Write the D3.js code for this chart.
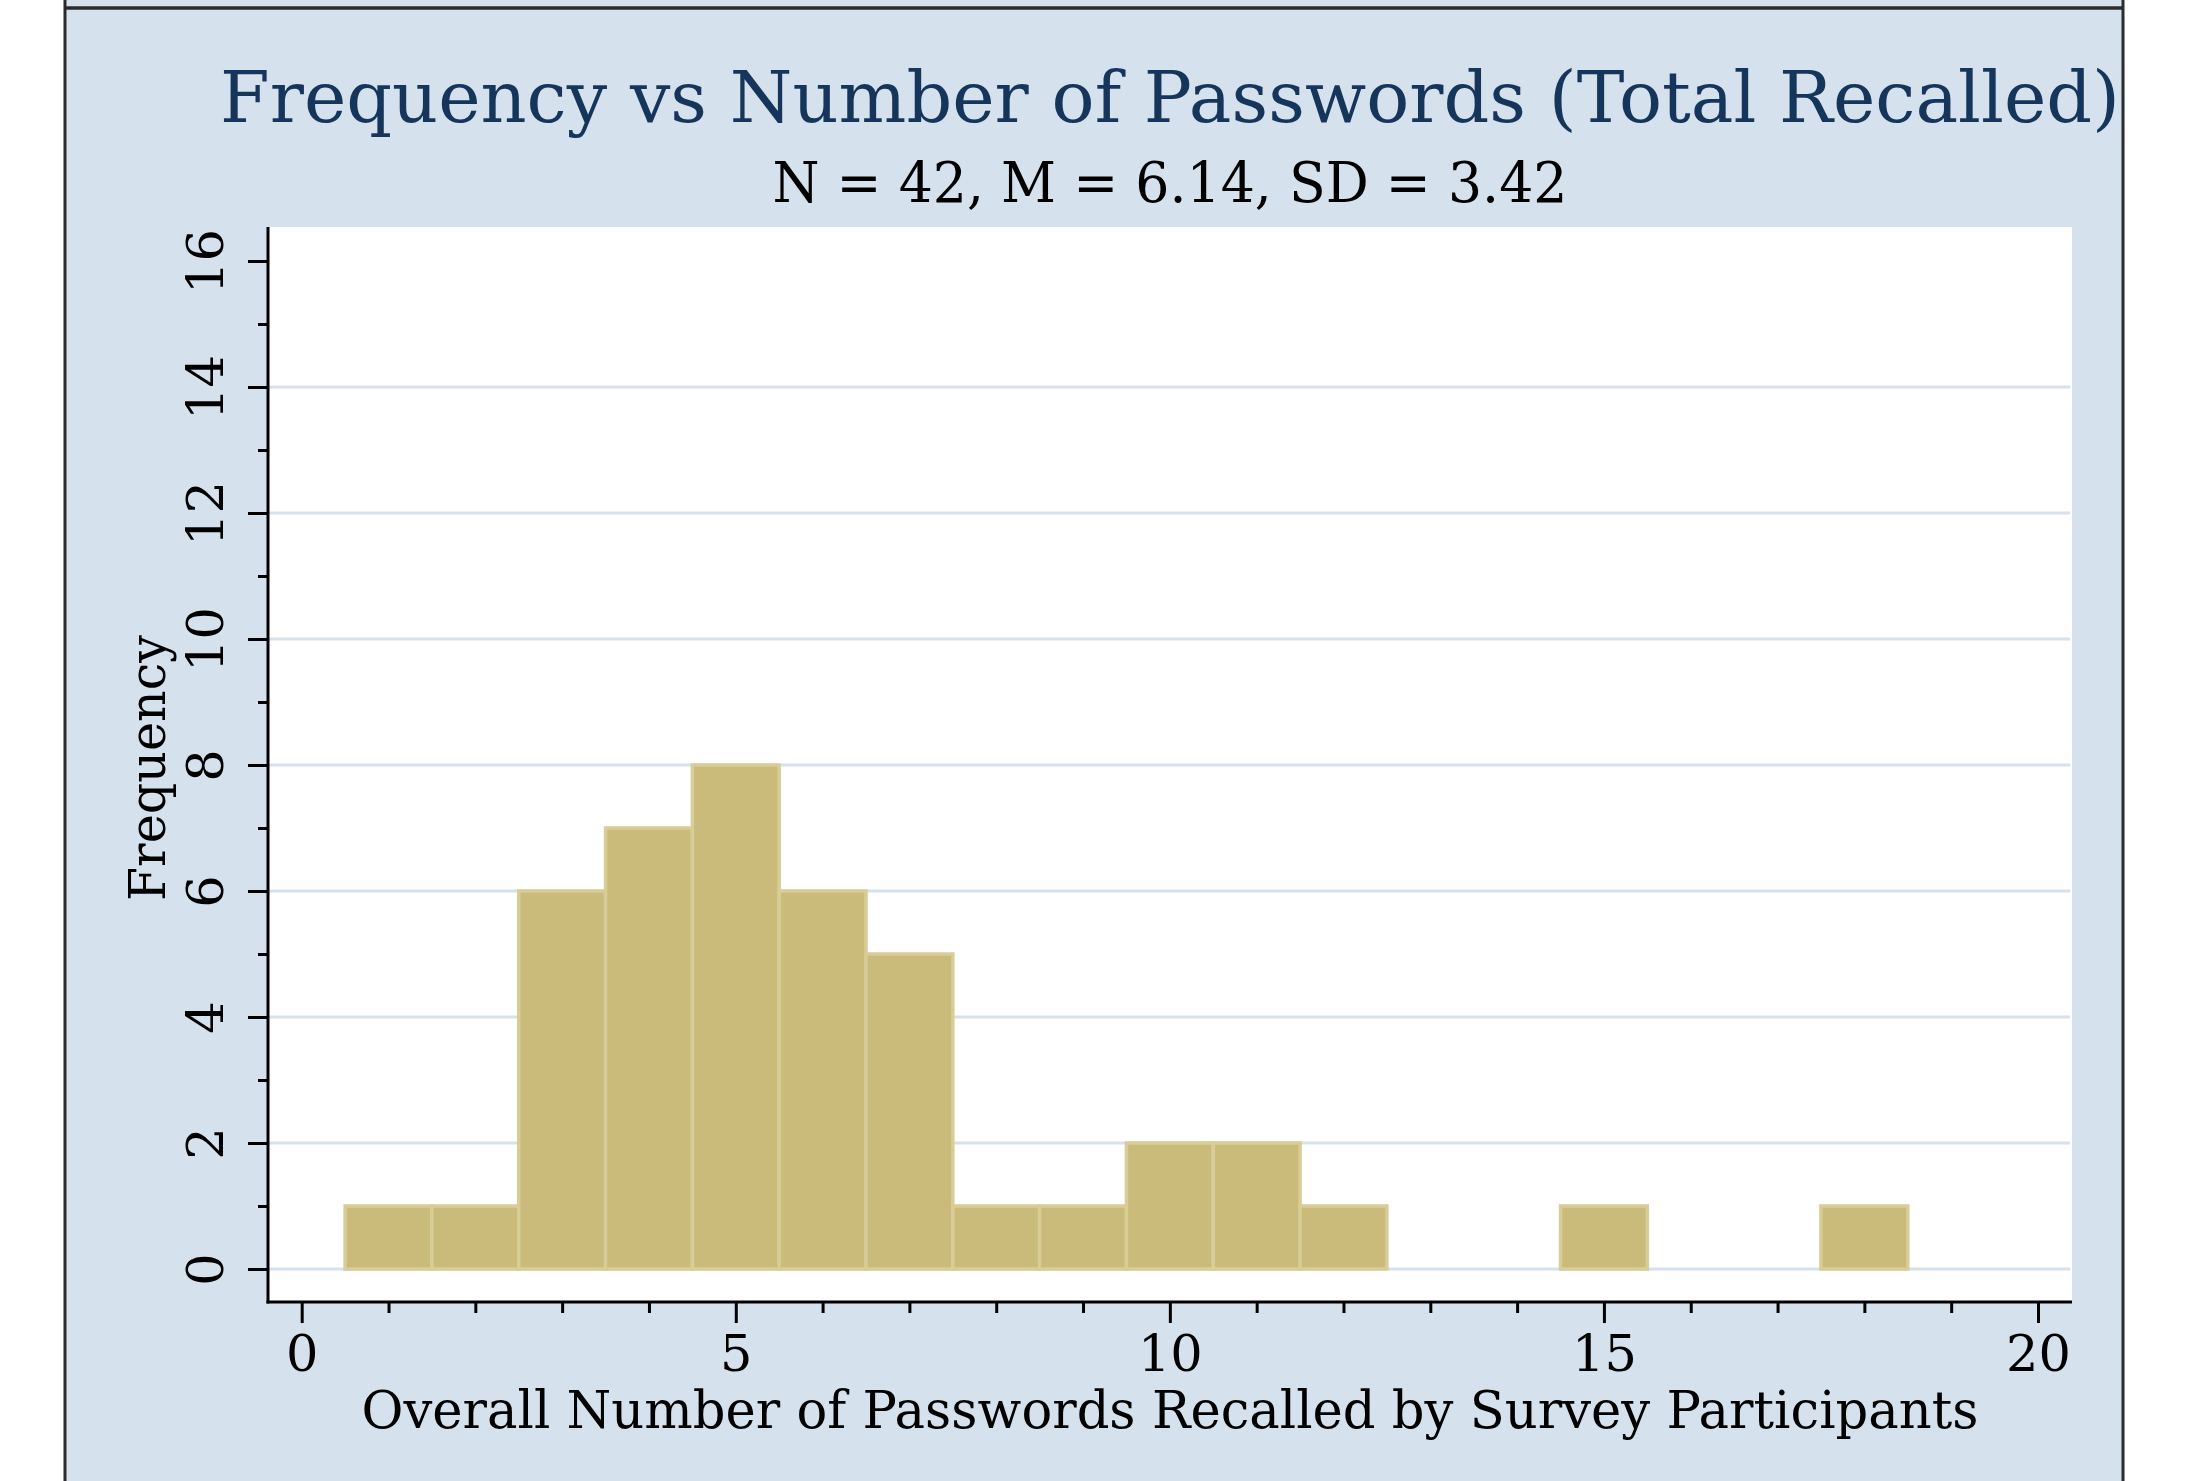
<!DOCTYPE html>
<html>
<head>
<meta charset="utf-8">
<script src="https://cdn.jsdelivr.net/npm/d3@7"></script>
<style>
  html, body { margin: 0; padding: 0; background: #ffffff; }
  svg { display: block; }
</style>
</head>
<body>
<svg id="chart" width="2190" height="1481"></svg>
<script>
// ---- data ----
const bins = [1, 2, 3, 4, 5, 6, 7, 8, 9, 10, 11, 12, 15, 18];
const frequencies = [1, 1, 6, 7, 8, 6, 5, 1, 1, 2, 2, 1, 1, 1];
const xMajorTicks = [0, 5, 10, 15, 20];
const yMajorTicks = [0, 2, 4, 6, 8, 10, 12, 14, 16];
const gridValues = [0, 2, 4, 6, 8, 10, 12, 14];
const titleText = "Frequency vs Number of Passwords (Total Recalled)";
const subtitleText = "N = 42, M = 6.14, SD = 3.42";
const xLabel = "Overall Number of Passwords Recalled by Survey Participants";
const yLabel = "Frequency";

// ---- layout / style ----
const W = 2190, H = 1481;
const bg = "#d5e2ee";
const frameColor = "#2b2b2b";
const plot = { left: 268, right: 2072, top: 227, bottom: 1302 };
const font = "'DejaVu Serif', serif";

const svg = d3.select("#chart");

// page background + frame
svg.append("rect").attr("x", 0).attr("y", 0).attr("width", W).attr("height", H).attr("fill", "#ffffff");
svg.append("rect").attr("x", 65).attr("y", 0).attr("width", 2123 - 65).attr("height", H).attr("fill", bg);
svg.append("line").attr("x1", 65).attr("x2", 65).attr("y1", 0).attr("y2", H)
  .attr("stroke", frameColor).attr("stroke-width", 3);
svg.append("line").attr("x1", 2123).attr("x2", 2123).attr("y1", 0).attr("y2", H)
  .attr("stroke", frameColor).attr("stroke-width", 3);
svg.append("line").attr("x1", 65).attr("x2", 2123).attr("y1", 8).attr("y2", 8)
  .attr("stroke", frameColor).attr("stroke-width", 3.5);

// plot region
svg.append("rect").attr("x", plot.left).attr("y", plot.top)
  .attr("width", plot.right - plot.left).attr("height", plot.bottom - plot.top)
  .attr("fill", "#ffffff");

const x = d3.scaleLinear().domain([0, 20]).range([301.7, 2038]);
const y = d3.scaleLinear().domain([0, 16]).range([1269, 261]);

// gridlines
svg.append("g").selectAll("line").data(gridValues).join("line")
  .attr("x1", plot.left).attr("x2", plot.right - 2)
  .attr("y1", d => y(d)).attr("y2", d => y(d))
  .attr("stroke", bg).attr("stroke-width", 3);

// bars
svg.append("g").selectAll("rect").data(bins.map((b, i) => ({ b, v: frequencies[i] }))).join("rect")
  .attr("x", d => x(d.b - 0.5))
  .attr("y", d => y(d.v))
  .attr("width", d => x(d.b + 0.5) - x(d.b - 0.5))
  .attr("height", d => y(0) - y(d.v))
  .attr("fill", "#cbbb7b")
  .attr("stroke", "#d8cc97")
  .attr("stroke-width", 3.5);

// axis lines
svg.append("line").attr("x1", plot.left).attr("x2", plot.left).attr("y1", plot.top).attr("y2", plot.bottom + 1.5)
  .attr("stroke", "#000").attr("stroke-width", 3);
svg.append("line").attr("x1", plot.left - 1.5).attr("x2", plot.right).attr("y1", plot.bottom).attr("y2", plot.bottom)
  .attr("stroke", "#000").attr("stroke-width", 3);

// y axis (major + minor)
const yMinor = d3.range(0, 17).filter(v => v % 2 !== 0);
const yAxisG = svg.append("g").attr("transform", `translate(${plot.left},0)`)
  .call(d3.axisLeft(y).tickValues(yMajorTicks).tickSize(20).tickSizeOuter(0).tickFormat(d3.format("d")));
yAxisG.select(".domain").remove();
yAxisG.selectAll(".tick line").attr("stroke", "#000").attr("stroke-width", 3);
yAxisG.selectAll(".tick text")
  .attr("x", null).attr("dy", null)
  .attr("transform", "translate(-45,0) rotate(-90)")
  .attr("text-anchor", "middle")
  .attr("font-family", font).attr("font-size", 51).attr("fill", "#000");
const yMinorG = svg.append("g").attr("transform", `translate(${plot.left},0)`)
  .call(d3.axisLeft(y).tickValues(yMinor).tickSize(10).tickSizeOuter(0).tickFormat(""));
yMinorG.select(".domain").remove();
yMinorG.selectAll(".tick line").attr("stroke", "#000").attr("stroke-width", 3);

// x axis (major + minor)
const xMinor = d3.range(0, 21).filter(v => v % 5 !== 0);
const xAxisG = svg.append("g").attr("transform", `translate(0,${plot.bottom})`)
  .call(d3.axisBottom(x).tickValues(xMajorTicks).tickSize(21).tickSizeOuter(0).tickFormat(d3.format("d")));
xAxisG.select(".domain").remove();
xAxisG.selectAll(".tick line").attr("stroke", "#000").attr("stroke-width", 3);
xAxisG.selectAll(".tick text")
  .attr("y", 69).attr("dy", null)
  .attr("font-family", font).attr("font-size", 51).attr("fill", "#000");
const xMinorG = svg.append("g").attr("transform", `translate(0,${plot.bottom})`)
  .call(d3.axisBottom(x).tickValues(xMinor).tickSize(11).tickSizeOuter(0).tickFormat(""));
xMinorG.select(".domain").remove();
xMinorG.selectAll(".tick line").attr("stroke", "#000").attr("stroke-width", 3);

// text helper: fit to target width
function fitText(sel, target) {
  const n = sel.node();
  const len = n.getComputedTextLength();
  if (Math.abs(len - target) > 2) {
    sel.attr("textLength", target).attr("lengthAdjust", "spacingAndGlyphs");
  }
}

const cx = (plot.left + plot.right) / 2;

const t = svg.append("text").attr("x", cx).attr("y", 122)
  .attr("text-anchor", "middle").attr("font-family", font).attr("font-size", 71)
  .attr("fill", "#15355a").text(titleText);
fitText(t, 1900);

const st = svg.append("text").attr("x", cx).attr("y", 202)
  .attr("text-anchor", "middle").attr("font-family", font).attr("font-size", 56)
  .attr("fill", "#000").text(subtitleText);
fitText(st, 795);

const xl = svg.append("text").attr("x", cx).attr("y", 1428)
  .attr("text-anchor", "middle").attr("font-family", font).attr("font-size", 52)
  .attr("fill", "#000").text(xLabel);
fitText(xl, 1617);

const yl = svg.append("text").attr("transform", `translate(165,768) rotate(-90)`)
  .attr("text-anchor", "middle").attr("font-family", font).attr("font-size", 51)
  .attr("fill", "#000").text(yLabel);
fitText(yl, 266);
</script>
</body>
</html>
